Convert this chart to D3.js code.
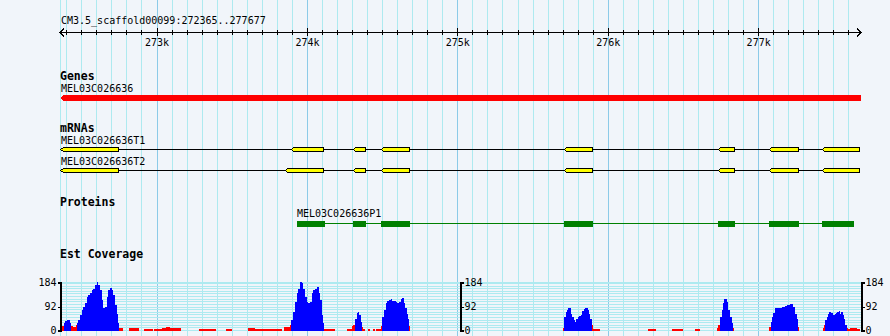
<!DOCTYPE html>
<html>
<head>
<meta charset="utf-8">
<script src="https://cdn.jsdelivr.net/npm/d3@7"></script>
<style>
  html, body { margin: 0; padding: 0; background: #f1f5fa; }
  svg { display: block; }
  text { font-family: "DejaVu Sans Mono", monospace; fill: #000; }
  .crisp { shape-rendering: crispEdges; }
</style>
</head>
<body>
<svg id="chart" width="890" height="336"></svg>
<script>
// ---- data -------------------------------------------------------------
const regionName = "CM3.5_scaffold00099";
const regionBounds = [272365, 277677];

const rulerMajorTicks = [273000, 274000, 275000, 276000, 277000];
const rulerMajorLabels = ["273k", "274k", "275k", "276k", "277k"];

const geneName = "MEL03C026636";
const geneSpan = [272365, 277677];   // minus strand

const mrnaNames = ["MEL03C026636T1", "MEL03C026636T2"];
const t1Exons = [[272365, 272749], [273899, 274116], [274315, 274391], [274501, 274683],
                 [275718, 275900], [276742, 276844], [277079, 277270], [277433, 277677]];
const t2Exons = [[272365, 272749], [273861, 274116], [274315, 274391], [274501, 274683],
                 [275718, 275900], [276742, 276844], [277079, 277270], [277433, 277677]];

const proteinName = "MEL03C026636P1";
const p1Cds = [[273934, 274120], [274306, 274392], [274492, 274683], [275709, 275902],
               [276735, 276848], [277072, 277272], [277425, 277637]];

const coverageMax = 184;
const coverageLabelTicks = [0, 92, 184];
const coveragePivot = 20;   // bins below this are drawn in red

// [bin start (bp), EST depth]; each bin runs to the next start
const estCoverage = [
  [272365,19],[272374,17],[272385,25],[272392,34],[272403,38],[272414,38],[272425,25],[272431,15],
  [272445,10],[272455,12],[272463,19],[272469,25],[272480,38],[272491,57],[272503,76],[272513,89],
  [272525,102],[272536,127],[272547,133],[272558,140],[272569,152],[272580,159],[272591,171],
  [272602,184],[272613,174],[272624,152],[272636,114],[272646,86],[272658,89],[272669,127],
  [272679,152],[272691,162],[272702,152],[272713,133],[272724,95],[272735,63],[272746,25],
  [272751,9],[272779,0],[272817,7],[272886,0],[272917,4],[272975,0],[272983,5],[273035,7],
  [273063,11],[273090,8],[273163,0],[273282,4],[273393,0],[273462,4],[273500,0],[273608,7],
  [273655,4],[273832,0],[273850,10],[273888,19],[273894,38],[273910,70],[273921,108],
  [273932,140],[273943,159],[273954,184],[273965,181],[273976,159],[273987,127],[273999,108],
  [274009,105],[274020,108],[274032,140],[274042,152],[274054,159],[274065,165],[274080,140],
  [274087,114],[274098,57],[274109,25],[274116,5],[274187,0],[274265,5],[274302,15],[274308,19],
  [274320,44],[274331,67],[274342,70],[274348,57],[274358,32],[274364,13],[274370,5],[274386,0],
  [274408,5],[274419,0],[274439,5],[274453,0],[274459,5],[274493,15],[274497,25],[274501,51],
  [274513,76],[274524,102],[274534,110],[274546,114],[274557,118],[274568,110],[274579,110],
  [274590,108],[274601,102],[274612,108],[274623,118],[274634,121],[274643,102],[274652,83],
  [274663,63],[274674,44],[274681,15],[274687,0],
  [275705,8],[275711,51],[275721,70],[275729,76],[275738,83],[275747,83],[275756,63],[275764,51],
  [275774,38],[275782,32],[275791,44],[275800,51],[275809,53],[275822,59],[275831,72],[275840,80],
  [275849,85],[275857,83],[275867,76],[275875,63],[275884,44],[275893,19],[275902,5],[275948,0],
  [276266,5],[276321,0],[276425,5],[276498,0],[276580,5],[276613,0],
  [276728,6],[276735,19],[276746,51],[276758,76],[276768,102],[276775,118],[276791,108],
  [276802,76],[276813,51],[276824,25],[276835,9],[276841,0],
  [277074,13],[277083,32],[277092,51],[277101,67],[277112,83],[277119,86],[277134,86],[277157,89],
  [277179,91],[277190,95],[277200,95],[277212,99],[277223,99],[277234,89],[277245,63],[277256,44],
  [277265,13],[277272,0],
  [277429,6],[277438,19],[277446,38],[277456,51],[277464,63],[277473,70],[277482,67],[277491,66],
  [277500,57],[277509,63],[277518,67],[277526,70],[277536,72],[277544,63],[277553,70],[277562,57],
  [277571,44],[277579,21],[277589,9],[277594,5],[277611,9],[277657,5]
];

// ---- layout -----------------------------------------------------------
const W = 890, H = 336;
const svg = d3.select("#chart");
const x = d3.scaleLinear().domain(regionBounds).range([61, 860]);

const colors = {
  minorGrid: "#aeeaf0",
  majorGrid: "#8ccbe8",
  gene: "#ff0000",
  exon: "#ffff00",
  cds: "#008000",
  covHigh: "#0000ff",
  covLow: "#ff0000"
};

// ---- vertical grid ----------------------------------------------------
const gridTicks = d3.range(Math.ceil(regionBounds[0] / 100) * 100, regionBounds[1], 100);
const grid = svg.append("g").attr("class", "crisp");
grid.append("line")
  .attr("x1", Math.floor(x(regionBounds[0])) - 0.5).attr("x2", Math.floor(x(regionBounds[0])) - 0.5)
  .attr("y1", 0).attr("y2", H).attr("stroke", colors.minorGrid);
grid.selectAll("line.v").data(gridTicks).join("line")
  .attr("class", "v")
  .attr("x1", d => Math.round(x(d)) + 0.5).attr("x2", d => Math.round(x(d)) + 0.5)
  .attr("y1", 0).attr("y2", H)
  .attr("stroke", d => d % 1000 === 0 ? colors.majorGrid : colors.minorGrid);

// ---- ruler ------------------------------------------------------------
svg.append("text").attr("x", 61).attr("y", 24).style("font-size", "10px")
  .text(`${regionName}:${regionBounds[0]}..${regionBounds[1]}`);

const rulerY = 32.5;
const ruler = svg.append("g").attr("class", "crisp");
ruler.append("line").attr("x1", 60).attr("x2", 861).attr("y1", rulerY).attr("y2", rulerY)
  .attr("stroke", "#000");
// arrowheads at both ends
ruler.append("path").attr("fill", "none").attr("stroke", "#000")
  .attr("d", `M64,${rulerY - 4}L60,${rulerY}L64,${rulerY + 4}M857,${rulerY - 4}L861,${rulerY}L857,${rulerY + 4}`);

const minorAxis = d3.axisBottom(x).tickValues(gridTicks.filter(d => d % 1000 !== 0))
  .tickSize(5).tickFormat("");
const gMinor = svg.append("g").attr("class", "crisp").attr("transform", "translate(0,30)").call(minorAxis);
gMinor.select(".domain").remove();

const majorAxis = d3.axisBottom(x).tickValues(rulerMajorTicks).tickSize(8).tickPadding(3)
  .tickFormat((d, i) => rulerMajorLabels[i]);
const gMajor = svg.append("g").attr("class", "crisp").attr("transform", "translate(0,28)").call(majorAxis);
gMajor.select(".domain").remove();
gMajor.selectAll("text").style("font-size", "10px").style("font-family", "DejaVu Sans Mono, monospace");
svg.selectAll(".tick line").attr("stroke", "#000");

// ---- track labels -----------------------------------------------------
const bold = sel => sel.style("font-size", "11.5px").style("font-weight", "bold");
bold(svg.append("text").attr("x", 60).attr("y", 80).text("Genes"));
bold(svg.append("text").attr("x", 60).attr("y", 132).text("mRNAs"));
bold(svg.append("text").attr("x", 60).attr("y", 206).text("Proteins"));
bold(svg.append("text").attr("x", 60).attr("y", 258).text("Est Coverage"));

// ---- gene -------------------------------------------------------------
svg.append("text").attr("x", 61).attr("y", 92).style("font-size", "10px").text(geneName);
{
  const x0 = x(geneSpan[0]) - 1, x1 = x(geneSpan[1]) + 1, top = 95, bot = 101, mid = 98;
  svg.append("path").attr("class", "crisp").attr("fill", colors.gene)
    .attr("d", `M${x0},${mid}L${x0 + 4},${top}L${x1},${top}L${x1},${bot}L${x0 + 4},${bot}Z`);
}

// ---- mRNAs ------------------------------------------------------------
function drawTranscript(exons, name, labelY, midY) {
  svg.append("text").attr("x", 61).attr("y", labelY).style("font-size", "10px").text(name);
  const g = svg.append("g").attr("class", "crisp");
  g.append("line")
    .attr("x1", x(exons[0][0])).attr("x2", x(exons[exons.length - 1][1]))
    .attr("y1", midY).attr("y2", midY).attr("stroke", "#000");
  g.selectAll("path").data(exons).join("path")
    .attr("fill", colors.exon).attr("stroke", "#000").attr("stroke-width", 1)
    .attr("d", (d, i) => {
      const x0 = Math.round(x(d[0])) + 0.5, x1 = Math.round(x(d[1])) - 0.5;
      const tip = i === 0 ? 3 : 2;
      return `M${x0 - 1},${midY}L${x0 + tip - 1},${midY - 2}L${x1},${midY - 2}L${x1},${midY + 2}L${x0 + tip - 1},${midY + 2}Z`;
    });
}
drawTranscript(t1Exons, mrnaNames[0], 144, 149.5);
drawTranscript(t2Exons, mrnaNames[1], 165, 170.5);

// ---- protein ----------------------------------------------------------
svg.append("text").attr("x", x(p1Cds[0][0])).attr("y", 217).style("font-size", "10px").text(proteinName);
{
  const g = svg.append("g").attr("class", "crisp");
  g.append("line").attr("x1", x(p1Cds[0][0])).attr("x2", x(p1Cds[p1Cds.length - 1][1]))
    .attr("y1", 223.5).attr("y2", 223.5).attr("stroke", colors.cds);
  g.selectAll("rect").data(p1Cds).join("rect")
    .attr("x", d => Math.round(x(d[0])))
    .attr("width", d => Math.round(x(d[1])) - Math.round(x(d[0])))
    .attr("y", 221).attr("height", 6).attr("fill", colors.cds);
}

// ---- EST coverage -----------------------------------------------------
const yCov = d3.scaleLinear().domain([0, coverageMax]).range([330, 282]);
const covTicks = d3.range(0, coverageMax, 10).concat([coverageMax]);

const hGrid = svg.append("g").attr("class", "crisp");
hGrid.selectAll("line").data(covTicks).join("line")
  .attr("x1", 60).attr("x2", 861)
  .attr("y1", d => Math.round(yCov(d)) + 0.5).attr("y2", d => Math.round(yCov(d)) + 0.5)
  .attr("stroke", colors.minorGrid);

const bins = estCoverage.map((d, i) => ({
  start: d[0],
  end: i < estCoverage.length - 1 ? estCoverage[i + 1][0] : regionBounds[1],
  value: d[1]
})).filter(d => d.value > 0);

svg.append("g").attr("class", "crisp").selectAll("rect").data(bins).join("rect")
  .attr("x", d => Math.round(x(d.start)))
  .attr("width", d => Math.max(1, Math.round(x(d.end)) - Math.round(x(d.start))))
  .attr("y", d => Math.round(yCov(d.value)))
  .attr("height", d => 331 - Math.round(yCov(d.value)))
  .attr("fill", d => d.value < coveragePivot ? colors.covLow : colors.covHigh);

function coverageAxis(axisFn, xPos) {
  const g = svg.append("g").attr("class", "crisp").attr("transform", `translate(${xPos},0.5)`);
  g.call(axisFn(yCov).tickValues(covTicks).tickSize(2).tickFormat(""));
  g.call(axisFn(yCov).tickValues(coverageLabelTicks).tickSize(3).tickPadding(1).tickFormat(d3.format("d")));
  g.selectAll(".domain").attr("stroke", "#000").attr("stroke-width", 1.2);
  g.selectAll(".tick line").attr("stroke", "#000");
  g.selectAll("text").style("font-size", "10px").style("font-family", "DejaVu Sans Mono, monospace");
}
coverageAxis(d3.axisLeft, 60.5);
coverageAxis(d3.axisRight, 460.5);
coverageAxis(d3.axisRight, 861.5);
</script>
</body>
</html>
